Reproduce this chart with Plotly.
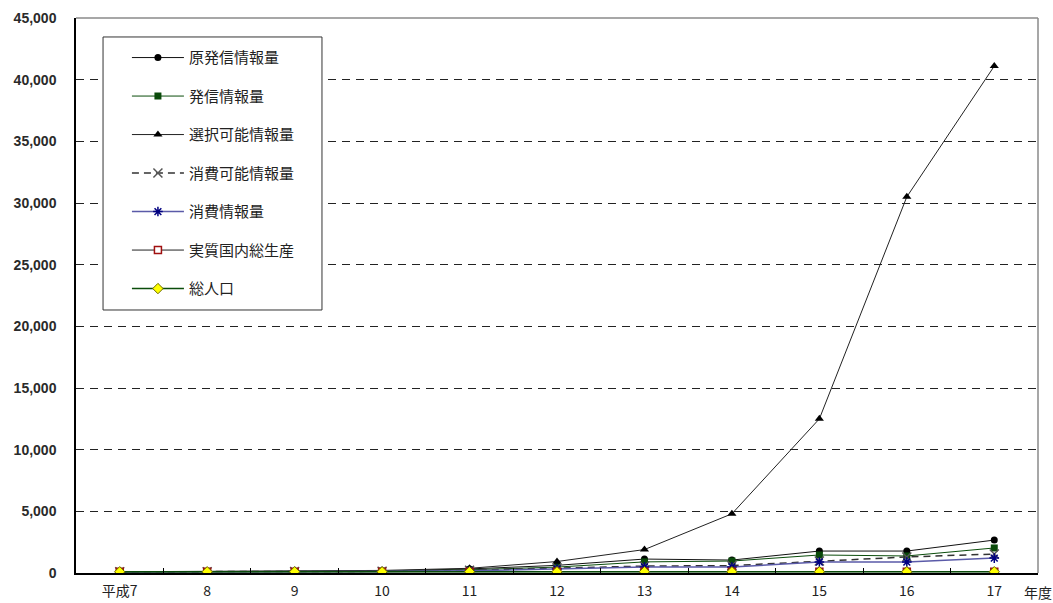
import plotly.graph_objects as go

# 年度（平成7年度 = 100 とした指数）
years = ["平成7", "8", "9", "10", "11", "12", "13", "14", "15", "16", "17"]

gen_hasshin = [100, 110, 125, 160, 330, 620, 1130, 1050, 1780, 1780, 2670]
hasshin = [100, 105, 115, 140, 260, 480, 900, 970, 1460, 1380, 2030]
sentaku_kanou = [100, 120, 150, 210, 380, 930, 1900, 4800, 12500, 30500, 41100]
shouhi_kanou = [100, 105, 115, 135, 230, 400, 560, 600, 970, 1300, 1540]
shouhi = [100, 102, 108, 120, 180, 330, 490, 490, 890, 890, 1210]
gdp = [100, 104, 104, 101, 102, 105, 104, 104, 106, 108, 111]
jinkou = [100, 100, 101, 101, 101, 101, 101, 102, 102, 102, 102]

y_ticks = [0, 5000, 10000, 15000, 20000, 25000, 30000, 35000, 40000, 45000]

series = [
    dict(name="原発信情報量", y=gen_hasshin,
         line=dict(color="#111111", width=1),
         marker=dict(symbol="circle", size=7, color="#000000")),
    dict(name="発信情報量", y=hasshin,
         line=dict(color="#0b4d0b", width=1),
         marker=dict(symbol="square", size=7, color="#0a4a0a")),
    dict(name="選択可能情報量", y=sentaku_kanou,
         line=dict(color="#222222", width=1),
         marker=dict(symbol="triangle-up", size=8, color="#000000")),
    dict(name="消費可能情報量", y=shouhi_kanou,
         line=dict(color="#333333", width=1.5, dash="7px,5px"),
         marker=dict(symbol="x-thin-open", size=9, color="#555555",
                     line=dict(color="#555555", width=1.5))),
    dict(name="消費情報量", y=shouhi,
         line=dict(color="#5a5aa8", width=1.5),
         marker=dict(symbol="asterisk-open", size=8, color="#000080",
                     line=dict(color="#000080", width=1.5))),
    dict(name="実質国内総生産", y=gdp,
         line=dict(color="#222222", width=1),
         marker=dict(symbol="square", size=7, color="#ffffff",
                     line=dict(color="#a01010", width=1.5))),
    dict(name="総人口", y=jinkou,
         line=dict(color="#0b4d0b", width=1.5),
         marker=dict(symbol="diamond", size=8, color="#ffff00",
                     line=dict(color="#6a6a00", width=1))),
]

fig = go.Figure()
for i, s in enumerate(series):
    fig.add_trace(go.Scatter(
        x=years, y=s["y"], name=s["name"], mode="lines+markers",
        line=s["line"], marker=s["marker"], legendgroup=f"g{i}",
        hoverinfo="x+y+name",
    ))

label_font = dict(family="Liberation Sans, Arial, sans-serif", size=14,
                  color="#2a2a2a", weight="bold")
cjk_font = dict(family="Noto Sans CJK JP, sans-serif", size=14, color="#222222")

fig.update_layout(
    width=1053, height=603,
    margin=dict(l=76, r=15, t=18, b=30, autoexpand=False),
    paper_bgcolor="white", plot_bgcolor="white",
    showlegend=True,
    legend=dict(
        x=0.028, y=0.958, xanchor="left", yanchor="top",
        bgcolor="rgba(0,0,0,0)", borderwidth=0,
        font=dict(family="Noto Sans CJK JP, sans-serif", size=15, color="#222222"),
        tracegroupgap=16, indentation=24, itemwidth=52,
    ),
    xaxis=dict(
        type="category", range=[-0.5, 10.5], automargin=False,
        showline=True, linecolor="#000000", linewidth=1.5,
        ticks="inside", tickson="boundaries", ticklen=5, tickcolor="#000000",
        showgrid=False, tickfont=cjk_font, ticklabelstandoff=4,
        fixedrange=True,
    ),
    yaxis=dict(
        range=[0, 45000], tickvals=y_ticks, tickformat=",", automargin=False,
        showline=True, linecolor="#000000", linewidth=1.5,
        showgrid=True, gridcolor="#222222", gridwidth=1, griddash="8px,6px",
        zeroline=False, ticks="", tickfont=label_font, ticklabelstandoff=15,
        fixedrange=True,
    ),
    shapes=[
        # plot frame: grey top and right edges
        dict(type="line", xref="paper", yref="paper", x0=0, x1=1, y0=1, y1=1,
             line=dict(color="#8a8a8a", width=1.5), layer="above"),
        dict(type="line", xref="paper", yref="paper", x0=1, x1=1, y0=0, y1=1,
             line=dict(color="#8a8a8a", width=1.5), layer="above"),
        # legend frame
        dict(type="rect", xref="paper", yref="paper",
             x0=0.0281, x1=0.2557, y0=0.4739, y1=0.9658,
             fillcolor="white", line=dict(color="#333333", width=1),
             layer="above"),
    ],
    annotations=[
        dict(text="年度", xref="paper", yref="paper", x=1.0, y=0,
             xanchor="left", yanchor="top", yshift=-7, xshift=-16,
             showarrow=False, font=cjk_font),
    ],
)

fig.write_html("out.html")
